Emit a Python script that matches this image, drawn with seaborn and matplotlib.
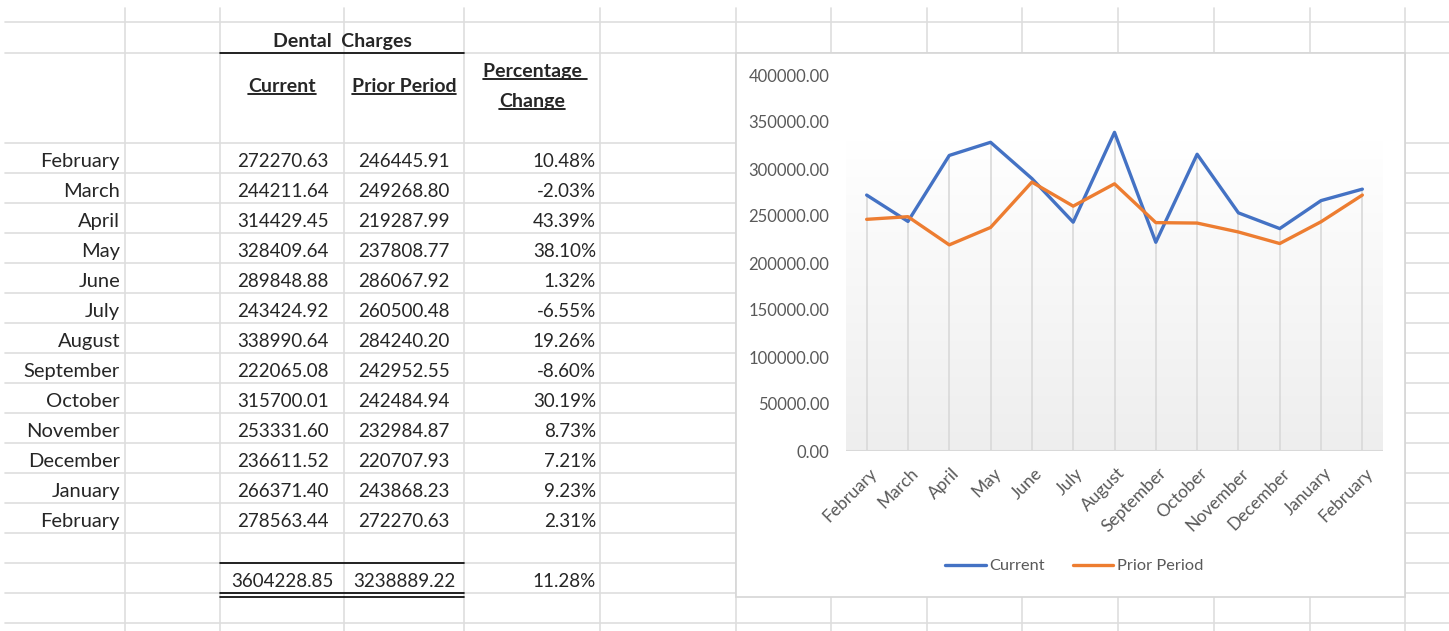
import numpy as np
import pandas as pd
import matplotlib.pyplot as plt
import seaborn as sns
from matplotlib.patches import Rectangle
from matplotlib.colors import LinearSegmentedColormap
from matplotlib.transforms import ScaledTranslation

# table / chart data
months = ['February', 'March', 'April', 'May', 'June', 'July', 'August',
          'September', 'October', 'November', 'December', 'January', 'February']
current = [272270.63, 244211.64, 314429.45, 328409.64, 289848.88, 243424.92, 338990.64,
           222065.08, 315700.01, 253331.60, 236611.52, 266371.40, 278563.44]
prior = [246445.91, 249268.80, 219287.99, 237808.77, 286067.92, 260500.48, 284240.20,
         242952.55, 242484.94, 232984.87, 220707.93, 243868.23, 272270.63]
pct_change = [10.48, -2.03, 43.39, 38.10, 1.32, -6.55, 19.26,
              -8.60, 30.19, 8.73, 7.21, 9.23, 2.31]
total_current = 3604228.85
total_prior = 3238889.22
total_pct = 11.28
y_ticks = [0, 50000, 100000, 150000, 200000, 250000, 300000, 350000, 400000]

sns.set_theme(style='white')
plt.rcParams['font.family'] = ['Lato', 'DejaVu Sans']

W, H = 1449, 631
fig = plt.figure(figsize=(W / 100, H / 100), dpi=100)
fig.patch.set_facecolor('white')

# spreadsheet background in pixel coords
bg = fig.add_axes([0, 0, 1, 1])
bg.set_xlim(0, W)
bg.set_ylim(H, 0)
bg.axis('off')

grid_color = '#dedede'
col_x = [125, 220, 344, 464, 600, 736, 831, 927, 1022, 1118, 1214, 1310, 1405]
row_y = [22, 53] + list(range(143, H, 30))
for x in col_x:
    bg.plot([x, x], [8, H], color=grid_color, lw=1.2, zorder=1)
for y in row_y:
    bg.plot([5, W], [y, y], color=grid_color, lw=1.2, zorder=1)

# chart box
bg.add_patch(Rectangle((736, 53), 669, 544, facecolor='white',
                       edgecolor='#d6d6d6', lw=1.2, zorder=3))

# table borders
bg.plot([220, 464], [53, 53], color='black', lw=1.2, zorder=2)
bg.plot([220, 464], [563, 563], color='black', lw=1.2, zorder=2)
bg.plot([220, 464], [593, 593], color='black', lw=1.2, zorder=2)
bg.plot([220, 464], [596.5, 596.5], color='black', lw=1.2, zorder=2)

fs = 14.5
fs_num = 13.5
bg.text(342, 47, 'Dental  Charges', ha='center', va='baseline', fontsize=fs - 0.5,
        fontweight='bold')
underlined = [
    bg.text(282, 92, 'Current', ha='center', va='baseline', fontsize=fs - 0.5, fontweight='bold'),
    bg.text(404, 92, 'Prior Period', ha='center', va='baseline', fontsize=fs - 0.5, fontweight='bold'),
    bg.text(535, 77, 'Percentage ', ha='center', va='baseline', fontsize=fs - 0.5, fontweight='bold'),
    bg.text(532, 107, 'Change', ha='center', va='baseline', fontsize=fs - 0.5, fontweight='bold'),
]

for i, m in enumerate(months):
    yb = 167 + 30 * i
    bg.text(120, yb, m, ha='right', va='baseline', fontsize=fs)
    bg.text(283, yb, f'{current[i]:.2f}', ha='center', va='baseline', fontsize=fs_num)
    bg.text(404, yb, f'{prior[i]:.2f}', ha='center', va='baseline', fontsize=fs_num)
    bg.text(596, yb, f'{pct_change[i]:.2f}%', ha='right', va='baseline', fontsize=fs_num)

bg.text(282, 587, f'{total_current:.2f}', ha='center', va='baseline', fontsize=fs_num)
bg.text(404, 587, f'{total_prior:.2f}', ha='center', va='baseline', fontsize=fs_num)
bg.text(596, 587, f'{total_pct:.2f}%', ha='right', va='baseline', fontsize=fs_num)

# chart
ax = fig.add_axes([846 / W, (H - 451) / H, (1383 - 846) / W, (451 - 75) / H])
ax.set_facecolor('none')
ax.set_zorder(5)
ax.set_xlim(-0.5, 12.5)
ax.set_ylim(0, 400000)

grad = LinearSegmentedColormap.from_list('grad', ['#ffffff', '#eeeeee'])
ax.imshow(np.linspace(0, 1, 256).reshape(-1, 1), cmap=grad, aspect='auto',
          extent=[-0.5, 12.5, 0, 330000], origin='upper', zorder=0)

pos = np.arange(len(months))
ax.vlines(pos, 0, np.maximum(current, prior), color='#d9d9d9', lw=1.2, zorder=1)
ax.axhline(0, color='#d9d9d9', lw=1.5, zorder=1)

df = pd.DataFrame({
    'pos': np.concatenate([pos, pos]),
    'value': current + prior,
    'series': ['Current'] * len(pos) + ['Prior Period'] * len(pos),
})
sns.lineplot(data=df, x='pos', y='value', hue='series',
             palette={'Current': '#4472C4', 'Prior Period': '#ED7D31'},
             lw=2.4, ax=ax, zorder=3)

for s in ax.spines.values():
    s.set_visible(False)
ax.set_xlabel('')
ax.set_ylabel('')
ax.set_yticks(y_ticks)
ax.set_yticklabels([f'{v:.2f}' for v in y_ticks], color='#595959', fontsize=12)
ax.set_xticks(pos)
ax.set_xticklabels(months, rotation=45, ha='right', rotation_mode='anchor',
                   color='#595959', fontsize=12.5)
ax.tick_params(axis='y', length=0, pad=12)
ax.tick_params(axis='x', length=0, pad=10)
shift = ScaledTranslation(2 / 100, 0, fig.dpi_scale_trans)
for lab in ax.get_xticklabels():
    lab.set_transform(lab.get_transform() + shift)

sns.move_legend(ax, 'center', bbox_to_anchor=(0.425, -0.306), ncol=2, frameon=False,
                title=None, fontsize=11.8, handlelength=2.45, columnspacing=1.75,
                handletextpad=0.2)
for t in ax.get_legend().get_texts():
    t.set_color('#595959')

# underline header labels
fig.canvas.draw()
r = fig.canvas.get_renderer()
inv = bg.transData.inverted()
for t in underlined:
    bb = t.get_window_extent(renderer=r)
    (x0, y0), (x1, _) = inv.transform([[bb.x0, bb.y0], [bb.x1, bb.y1]])
    bg.plot([x0, x1], [y0 - 1, y0 - 1], color='black', lw=1.2, zorder=2)

fig.savefig('out.png', dpi=100)
